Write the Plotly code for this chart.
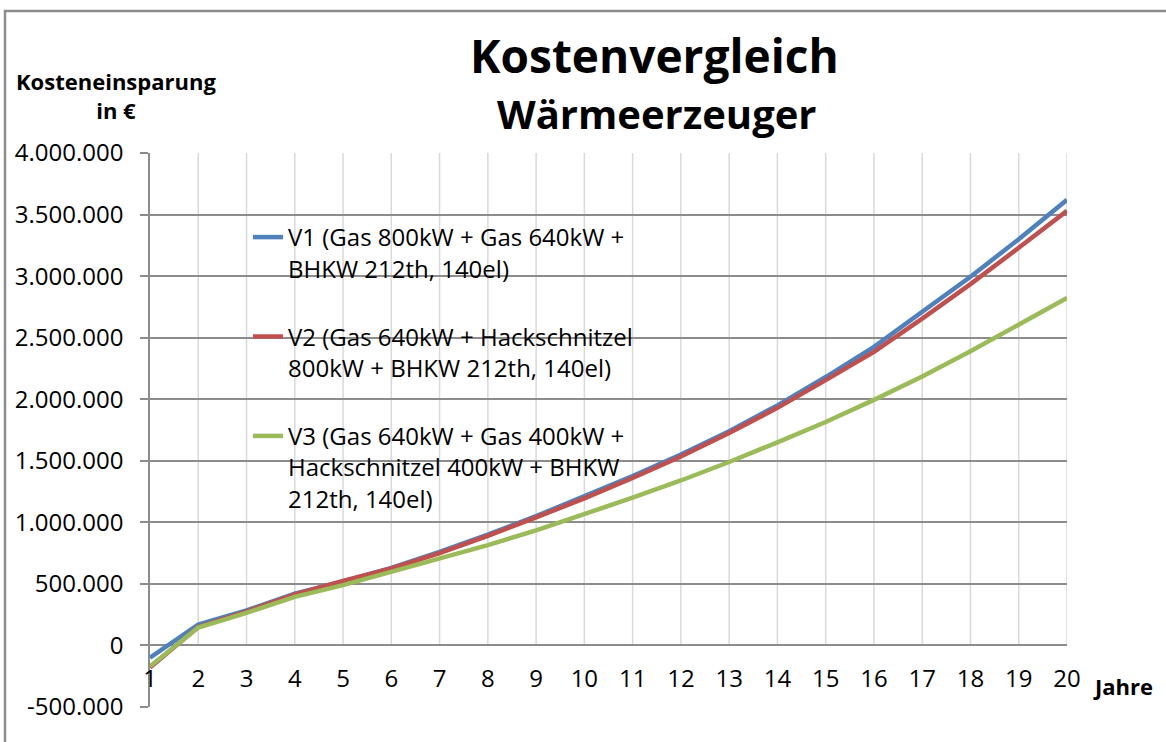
import plotly.graph_objects as go

# ---------------- data ----------------
jahre = list(range(1, 21))

v1 = [-100000, 170000, 285000, 420000, 520000, 630000, 760000, 900000, 1050000, 1210000,
      1375000, 1550000, 1740000, 1950000, 2180000, 2425000, 2705000, 2995000, 3300000, 3620000]
v2 = [-180000, 150000, 275000, 415000, 525000, 625000, 750000, 890000, 1040000, 1195000,
      1360000, 1535000, 1725000, 1930000, 2155000, 2385000, 2655000, 2935000, 3230000, 3530000]
v3 = [-170000, 145000, 265000, 395000, 490000, 600000, 705000, 815000, 935000, 1065000,
      1200000, 1340000, 1490000, 1650000, 1815000, 1995000, 2185000, 2390000, 2605000, 2822000]

names = [
    "V1 (Gas 800kW + Gas 640kW +<br>BHKW 212th, 140el)",
    "V2 (Gas 640kW + Hackschnitzel<br>800kW + BHKW 212th, 140el)",
    "V3 (Gas 640kW + Gas 400kW +<br>Hackschnitzel 400kW + BHKW<br>212th, 140el)",
]
colors = ["#4F81BD", "#C0504D", "#9BBB59"]

y_tickvals = [-500000, 0, 500000, 1000000, 1500000, 2000000, 2500000, 3000000, 3500000, 4000000]
y_ticktext = ["-500.000", "0", "500.000", "1.000.000", "1.500.000", "2.000.000",
              "2.500.000", "3.000.000", "3.500.000", "4.000.000"]

title1 = "Kostenvergleich"
title2 = "Wärmeerzeuger"
ytitle = "Kosteneinsparung<br>in €"
xtitle = "Jahre"

# ---------------- layout geometry ----------------
W, H = 1166, 742
ML, MR, MT, MB = 150, 99, 153, 35
PW, PH = W - ML - MR, H - MT - MB
ymin, ymax = -500000, 4000000


def px_to_paper_x(px):
    return (px - ML) / PW


def px_to_paper_y(py):
    return (H - MB - py) / PH


FONT = "Open Sans"

fig = go.Figure()
for i, (vals, nm, col) in enumerate(zip([v1, v2, v3], names, colors)):
    fig.add_trace(go.Scatter(
        x=jahre, y=vals, name=nm, mode="lines",
        line=dict(color=col, width=4.5),
        legendgroup=f"g{i}",
    ))

# vertical light gridlines from 0 up to the top, at each category
shapes = []
for xv in jahre[1:]:
    shapes.append(dict(type="line", xref="x", yref="y", x0=xv, x1=xv, y0=0, y1=ymax,
                       line=dict(color="#D9D9D9", width=1.5), layer="below"))
# outer chart border
shapes.append(dict(type="rect", xref="paper", yref="paper",
                   x0=px_to_paper_x(5), x1=px_to_paper_x(1180),
                   y0=px_to_paper_y(760), y1=px_to_paper_y(11),
                   line=dict(color="#8C8C8C", width=2.5), fillcolor="rgba(0,0,0,0)"))

annotations = [
    dict(text=f"<b>{title1}</b>", xref="paper", yref="paper",
         x=px_to_paper_x(654), y=px_to_paper_y(55), xanchor="center", yanchor="middle",
         showarrow=False, font=dict(family=FONT, size=46, color="black")),
    dict(text=f"<b>{title2}</b>", xref="paper", yref="paper",
         x=px_to_paper_x(657), y=px_to_paper_y(113), xanchor="center", yanchor="middle",
         showarrow=False, font=dict(family=FONT, size=40, color="black")),
    dict(text=f"<b>{ytitle}</b>", xref="paper", yref="paper",
         x=px_to_paper_x(116), y=px_to_paper_y(95), xanchor="center", yanchor="middle",
         align="center", showarrow=False, font=dict(family=FONT, size=22, color="black")),
    dict(text=f"<b>{xtitle}</b>", xref="paper", yref="paper",
         x=px_to_paper_x(1123), y=px_to_paper_y(686), xanchor="center", yanchor="middle",
         showarrow=False, font=dict(family=FONT, size=22, color="black")),
]

fig.update_layout(
    width=W, height=H,
    margin=dict(l=ML, r=MR, t=MT, b=MB, pad=0),
    paper_bgcolor="white", plot_bgcolor="white",
    font=dict(family=FONT, size=24, color="black"),
    showlegend=True,
    legend=dict(
        x=px_to_paper_x(248), y=px_to_paper_y(215), xanchor="left", yanchor="top",
        bgcolor="rgba(0,0,0,0)", borderwidth=0,
        font=dict(family=FONT, size=24, color="black"),
        tracegroupgap=34, valign="top", itemwidth=30,
    ),
    shapes=shapes,
    annotations=annotations,
    xaxis=dict(
        range=[1, 20], tickmode="array", tickvals=jahre, ticktext=[str(j) for j in jahre],
        anchor="free", position=(0 - ymin) / (ymax - ymin),
        showgrid=False, zeroline=False, showline=False, ticks="",
        ticklabelstandoff=17, tickfont=dict(family=FONT, size=24, color="black"),
    ),
    yaxis=dict(
        range=[ymin, ymax], tickmode="array", tickvals=y_tickvals, ticktext=y_ticktext,
        showgrid=True, gridcolor="#8C8C8C", gridwidth=1.5,
        zeroline=False, showline=True, linecolor="#8C8C8C", linewidth=1.5,
        ticks="outside", ticklen=8, tickcolor="#8C8C8C", tickwidth=1.5,
        ticklabelstandoff=12, tickfont=dict(family=FONT, size=24, color="black"),
    ),
)

fig.write_html(
    "out.html",
    config={"displayModeBar": False},
    post_script="document.body.style.margin='0';document.body.style.overflow='hidden';",
)
